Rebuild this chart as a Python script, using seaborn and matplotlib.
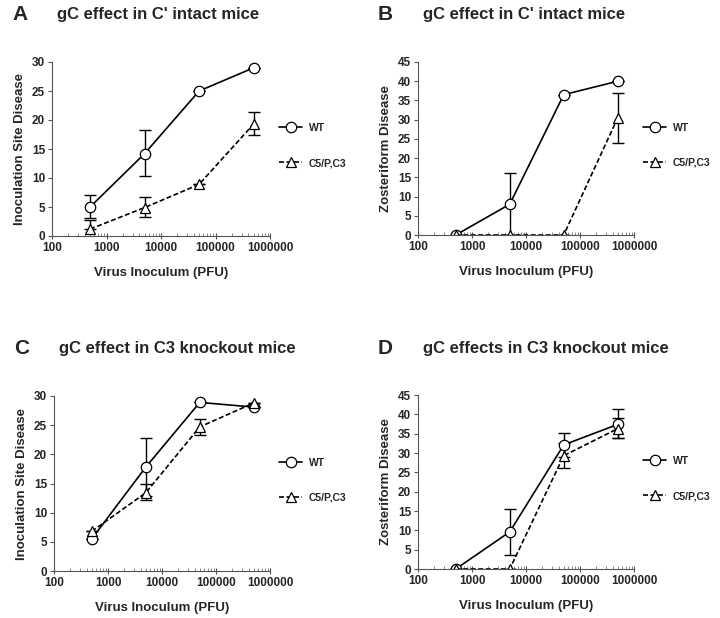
import numpy as np
import pandas as pd
import matplotlib
matplotlib.use("Agg")
import matplotlib.pyplot as plt
import seaborn as sns
from matplotlib.ticker import LogLocator, FixedLocator, NullFormatter

sns.set_theme(style="white")
plt.rcParams['font.family'] = ['Liberation Sans', 'DejaVu Sans']
plt.rcParams['font.weight'] = 'bold'

doses = [500, 5000, 50000, 500000]
series = ["WT", "C5/P,C3"]

# Panel A: Inoculation site disease, C' intact
a_wt = [5.0, 14.2, 25.0, 29.0]
a_wt_lo = [3.1, 10.4, 25.0, 29.0]
a_wt_hi = [7.0, 18.2, 25.0, 29.0]
a_mut = [1.2, 4.9, 8.9, 19.3]
a_mut_lo = [1.2, 3.3, 8.9, 17.5]
a_mut_hi = [2.7, 6.8, 8.9, 21.3]

# Panel B: Zosteriform disease, C' intact
b_wt = [0.0, 8.0, 36.5, 40.0]
b_wt_lo = [0.0, 0.0, 36.5, 40.0]
b_wt_hi = [0.0, 16.0, 36.5, 40.0]
b_mut = [0.0, 0.0, 0.0, 30.5]
b_mut_lo = [0.0, 0.0, 0.0, 24.0]
b_mut_hi = [0.0, 0.0, 0.0, 37.0]

# Panel C: Inoculation site disease, C3 knockout
c_wt = [5.5, 17.8, 28.9, 28.1]
c_wt_lo = [5.5, 12.8, 28.9, 28.1]
c_wt_hi = [5.5, 22.8, 28.9, 28.1]
c_mut = [6.8, 13.4, 24.7, 28.8]
c_mut_lo = [6.8, 12.2, 23.4, 28.8]
c_mut_hi = [6.8, 15.0, 26.1, 28.8]

# Panel D: Zosteriform disease, C3 knockout
d_wt = [0.0, 9.6, 32.1, 37.4]
d_wt_lo = [0.0, 3.7, 29.0, 33.8]
d_wt_hi = [0.0, 15.5, 35.2, 41.3]
d_mut = [0.0, 0.0, 29.3, 36.3]
d_mut_lo = [0.0, 0.0, 26.1, 33.8]
d_mut_hi = [0.0, 0.0, 32.5, 39.0]

panels = [
    ("A", "gC effect in C' intact mice", "Inoculation Site Disease", 30, 5,
     a_wt, a_wt_lo, a_wt_hi, a_mut, a_mut_lo, a_mut_hi),
    ("B", "gC effect in C' intact mice", "Zosteriform Disease", 45, 5,
     b_wt, b_wt_lo, b_wt_hi, b_mut, b_mut_lo, b_mut_hi),
    ("C", "gC effect in C3 knockout mice", "Inoculation Site Disease", 30, 5,
     c_wt, c_wt_lo, c_wt_hi, c_mut, c_mut_lo, c_mut_hi),
    ("D", "gC effects in C3 knockout mice", "Zosteriform Disease", 45, 5,
     d_wt, d_wt_lo, d_wt_hi, d_mut, d_mut_lo, d_mut_hi),
]

# axes boxes in pixels (left, right, top, bottom)
boxes = [(52, 270, 62, 236), (418, 634, 62, 235),
         (54, 270, 396, 571), (418, 634, 395, 569)]

W, H = 720, 618
fig = plt.figure(figsize=(7.2, 6.18), dpi=100)

for (letter, title, ylab, ymax, ystep, wt, wlo, whi, mu, mlo, mhi), (l, r, t, b) in zip(panels, boxes):
    ax = fig.add_axes([l / W, 1 - b / H, (r - l) / W, (b - t) / H])
    df = pd.DataFrame({
        "dose": doses * 2,
        "value": list(wt) + list(mu),
        "strain": [series[0]] * 4 + [series[1]] * 4,
    })
    sns.lineplot(data=df, x="dose", y="value", hue="strain", style="strain",
                 palette=["black", "black"], dashes=[(None, None), (3, 1.5)],
                 markers=["o", "^"], markersize=7.5, markerfacecolor="white",
                 markeredgecolor="black", markeredgewidth=0.9, linewidth=1.2,
                 ax=ax, legend=True)
    for y, lo, hi in ((wt, wlo, whi), (mu, mlo, mhi)):
        y = np.array(y); lo = np.array(lo); hi = np.array(hi)
        ax.errorbar(doses, y, yerr=[y - lo, hi - y], fmt="none", ecolor="black",
                    elinewidth=1.0, capsize=4, capthick=1.0, zorder=1)
    ax.set_xscale("log")
    ax.set_xlim(100, 1000000)
    ax.set_ylim(0, ymax)
    ax.set_yticks(np.arange(0, ymax + 1, ystep))
    ax.xaxis.set_major_locator(FixedLocator([100, 1000, 10000, 100000, 1000000]))
    ax.xaxis.set_minor_locator(LogLocator(base=10, subs=np.arange(2, 10), numticks=20))
    ax.xaxis.set_minor_formatter(NullFormatter())
    ax.set_xticklabels(["100", "1000", "10000", "100000", "1000000"],
                       fontsize=8.5, fontweight="bold")
    for lab in ax.get_yticklabels():
        lab.set_fontsize(8.5); lab.set_fontweight("bold")
    ax.tick_params(axis="both", which="major", direction="out", length=3,
                   width=0.8, color="#555555", bottom=True, left=True, pad=2)
    ax.tick_params(axis="x", which="minor", direction="in", length=2,
                   width=0.6, color="#777777", bottom=True)
    ax.xaxis.set_tick_params(which="major", direction="inout", length=4)
    for s in ("top", "right"):
        ax.spines[s].set_visible(False)
    for s in ("left", "bottom"):
        ax.spines[s].set_color("#555555")
        ax.spines[s].set_linewidth(0.8)
    ax.set_xlabel("Virus Inoculum (PFU)", fontsize=9.5, fontweight="bold", labelpad=10)
    ax.set_ylabel(ylab, fontsize=9.5, fontweight="bold", labelpad=4)
    leg = ax.legend(loc="center left", bbox_to_anchor=(1.0, 0.52), frameon=False,
                    handlelength=2.2, handletextpad=0.6, labelspacing=2.4,
                    prop={"weight": "bold", "size": 7.5})
    for lh in leg.get_lines():
        lh.set_markerfacecolor("white")
    fig.text((l - 40) / W, 1 - (t - 47) / H, letter, fontsize=15, fontweight="bold",
             va="center", ha="left")
    fig.text((l + 5) / W, 1 - (t - 47) / H, title, fontsize=12, fontweight="bold",
             va="center", ha="left")

fig.savefig("out.png", dpi=100, facecolor="white")
